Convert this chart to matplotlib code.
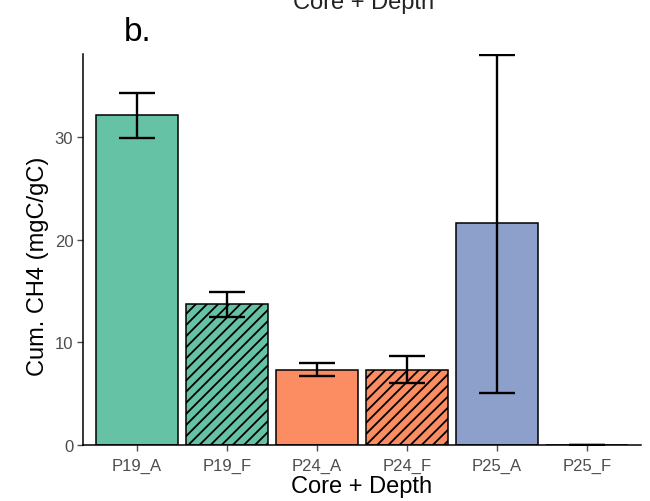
import numpy as np
import matplotlib
matplotlib.use('Agg')
import matplotlib.pyplot as plt

plt.rcParams['font.family'] = ['Liberation Sans', 'DejaVu Sans']
plt.rcParams['hatch.linewidth'] = 1.3

# data
samples = ["P19_A", "P19_F", "P24_A", "P24_F", "P25_A", "P25_F"]
cum_ch4 = [32.2, 13.7, 7.3, 7.3, 21.6, 0.0]
err_low = [29.9, 12.5, 6.7, 6.0, 5.1, 0.0]
err_high = [34.3, 14.9, 8.0, 8.7, 38.0, 0.0]
fills = ["#66C2A5", "#66C2A5", "#FC8D62", "#FC8D62", "#8DA0CB", "#8DA0CB"]
hatches = ["", "///", "", "///", "", "///"]

x = np.arange(len(samples))
yerr = [np.array(cum_ch4) - np.array(err_low), np.array(err_high) - np.array(cum_ch4)]

fig = plt.figure(figsize=(6.5, 5.02), dpi=100)
ax = fig.add_axes([83/650, 1 - 446/502, (641 - 83)/650, (446 - 55)/502])

for i in range(len(samples)):
    ax.bar(x[i], cum_ch4[i], width=0.92, color=fills[i], edgecolor="black",
           linewidth=1.1, hatch=hatches[i], zorder=2)
ax.errorbar(x, cum_ch4, yerr=yerr, fmt="none", ecolor="black", elinewidth=1.7,
            capsize=13, capthick=1.7, zorder=3)

ax.set_xlim(-0.6, len(samples) - 0.4)
ax.set_ylim(0, 38.1)
ax.set_yticks([0, 10, 20, 30])
ax.set_xticks(x)
ax.set_xticklabels(samples)

for s in ["top", "right"]:
    ax.spines[s].set_visible(False)
ax.spines["left"].set_linewidth(1.1)
ax.spines["bottom"].set_linewidth(1.1)
ax.tick_params(axis="both", colors="#4D4D4D", labelsize=12, length=4, width=1.0)
ax.tick_params(axis="x", pad=5)
ax.tick_params(axis="y", pad=3)

ax.set_xlabel("Core + Depth", fontsize=17, labelpad=2)
ax.set_ylabel("Cum. CH4 (mgC/gC)", fontsize=17)
ax.yaxis.set_label_coords(-0.061, 0.46)

fig.text(364/650, 1 - 9/502, "Core + Depth", fontsize=17, ha="center", va="baseline", color="#222222")
fig.text(124/650, 1 - 41/502, "b.", fontsize=24, ha="left", va="baseline")

fig.savefig("out.png", dpi=100)
